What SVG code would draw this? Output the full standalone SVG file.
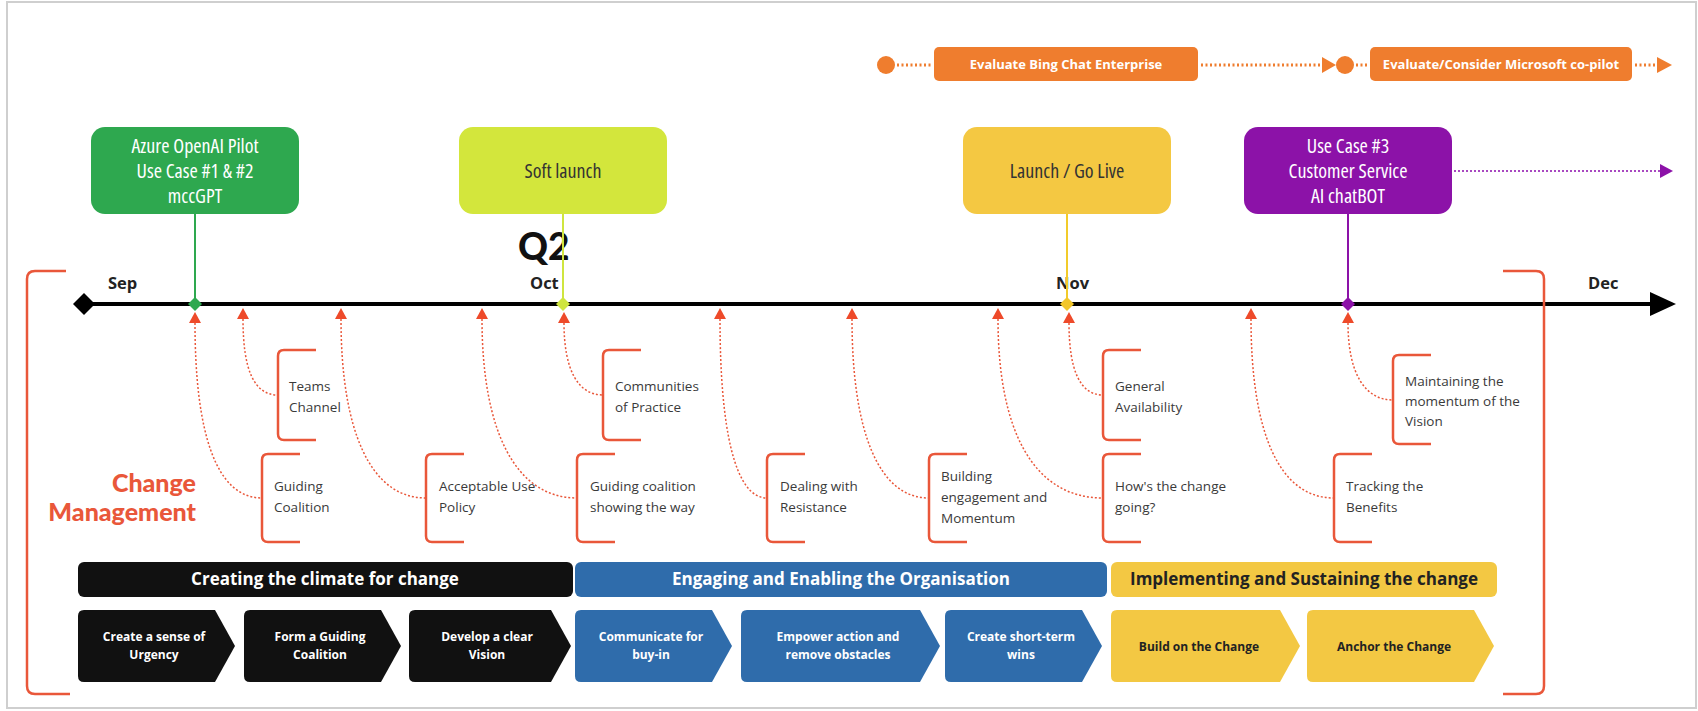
<svg xmlns="http://www.w3.org/2000/svg" width="1698" height="711" viewBox="0 0 1698 711">
<defs>
<style>
.frame{fill:#fff;stroke:#cfcfcf;stroke-width:2}
.ms{font-family:"Open Sans","DejaVu Sans",sans-serif;font-size:20px;text-anchor:middle;font-stretch:semi-condensed}
.mon{font-family:"Open Sans","DejaVu Sans",sans-serif;font-size:16.5px;font-weight:700;fill:#222}
.lbl{font-family:"Open Sans","DejaVu Sans",sans-serif;font-size:13.5px;fill:#3a3a3a}
.brk{fill:none;stroke:#e9573a;stroke-width:2.5;stroke-linejoin:round}
.cur{fill:none;stroke:#e9573a;stroke-width:1.5;stroke-dasharray:2 2}
.tri{fill:#ee4a2a}
.phase{font-family:"Open Sans","DejaVu Sans",sans-serif;font-size:17px;font-weight:700;text-anchor:middle}
.chev{font-family:"Open Sans","DejaVu Sans",sans-serif;font-size:12px;font-weight:700;text-anchor:middle}
.or{fill:#ef7d2e}
.ordot{fill:none;stroke:#ef7d2e;stroke-width:3;stroke-dasharray:2 2.5}
.ortxt{font-family:"Open Sans","DejaVu Sans",sans-serif;font-size:13px;font-weight:700;fill:#fff;text-anchor:middle}
</style>
</defs>
<rect class="frame" x="7" y="2" width="1689" height="706"/>

<!-- top orange evaluation row -->
<g id="eval-row">
<circle class="or" cx="886" cy="65" r="9"/>
<line class="ordot" x1="897" y1="65" x2="932" y2="65"/>
<rect class="or" x="934" y="47" width="264" height="34" rx="5"/>
<text class="ortxt" x="1066" y="69">Evaluate Bing Chat Enterprise</text>
<line class="ordot" x1="1201" y1="65" x2="1323" y2="65"/>
<polygon class="or" points="1322,57 1336,65 1322,73"/>
<circle class="or" cx="1345" cy="65" r="9"/>
<line class="ordot" x1="1356" y1="65" x2="1368" y2="65"/>
<rect class="or" x="1370" y="47" width="262" height="34" rx="5"/>
<text class="ortxt" x="1501" y="69">Evaluate/Consider Microsoft co-pilot</text>
<line class="ordot" x1="1635" y1="65" x2="1658" y2="65"/>
<polygon class="or" points="1657,57 1672,65 1657,73"/>
</g>

<!-- timeline -->
<g id="timeline">
<line x1="84" y1="304" x2="1652" y2="304" stroke="#000" stroke-width="4"/>
<polygon points="84,293 95,304 84,315 73,304" fill="#000"/>
<polygon points="1650,292 1676,304 1650,316" fill="#000"/>
<text class="mon" x="108" y="289">Sep</text>
<text class="mon" x="530" y="289">Oct</text>
<text class="mon" x="1056" y="289">Nov</text>
<text class="mon" x="1588" y="289">Dec</text>
<text x="518" y="260" font-family="Lato,Inter,sans-serif" font-weight="900" font-size="37" fill="#111">Q2</text>
</g>

<!-- milestones -->
<g id="ms-azure">
<line x1="195" y1="214" x2="195" y2="304" stroke="#2ea84f" stroke-width="2"/>
<rect x="91" y="127" width="208" height="87" rx="14" fill="#2ea84f"/>
<text class="ms" fill="#fff"><tspan x="195" y="153">Azure OpenAI Pilot</tspan><tspan x="195" y="178">Use Case #1 &amp; #2</tspan><tspan x="195" y="203">mccGPT</tspan></text>
<polygon points="195,297 202,304 195,311 188,304" fill="#2ea84f"/>
</g>
<g id="ms-soft">
<line x1="563" y1="214" x2="563" y2="304" stroke="#cfe53f" stroke-width="2"/>
<rect x="459" y="127" width="208" height="87" rx="14" fill="#d3e63c"/>
<text class="ms" fill="#333" x="563" y="178">Soft launch</text>
<polygon points="563,297 570,304 563,311 556,304" fill="#cfe53f"/>
</g>
<g id="ms-launch">
<line x1="1067" y1="214" x2="1067" y2="304" stroke="#f2cb2a" stroke-width="2"/>
<rect x="963" y="127" width="208" height="87" rx="14" fill="#f4c842"/>
<text class="ms" fill="#333" x="1067" y="178">Launch / Go Live</text>
<polygon points="1067,297 1074,304 1067,311 1060,304" fill="#f2c62a"/>
</g>
<g id="ms-usecase3">
<line x1="1348" y1="214" x2="1348" y2="304" stroke="#8c12a8" stroke-width="2"/>
<rect x="1244" y="127" width="208" height="87" rx="14" fill="#8c12a8"/>
<text class="ms" fill="#fff"><tspan x="1348" y="153">Use Case #3</tspan><tspan x="1348" y="178">Customer Service</tspan><tspan x="1348" y="203">AI chatBOT</tspan></text>
<polygon points="1348,297 1355,304 1348,311 1341,304" fill="#8c12a8"/>
<line x1="1454" y1="171" x2="1661" y2="171" stroke="#a848c0" stroke-width="2" stroke-dasharray="2 2"/>
<polygon points="1660,164 1673,171 1660,178" fill="#8c12a8"/>
</g>

<text x="196" y="492" font-family="Lato,Inter,sans-serif" font-weight="900" font-size="25" fill="#e9573a" text-anchor="end">Change</text>
<text x="196" y="521" font-family="Lato,Inter,sans-serif" font-weight="900" font-size="25" fill="#e9573a" text-anchor="end">Management</text>

<!-- outer brackets -->
<path class="brk" d="M66,271 H35 Q27,271 27,279 V686 Q27,694 35,694 H70"/>
<path class="brk" d="M1503,271 H1536 Q1544,271 1544,279 V686 Q1544,694 1536,694 H1503" stroke="#e86a5a"/>

<!-- connectors -->
<g id="connectors">
<polygon class="tri" points="195,312 201,323 189,323"/>
<polygon class="tri" points="243,308 249,319 237,319"/>
<polygon class="tri" points="341,308 347,319 335,319"/>
<polygon class="tri" points="482,308 488,319 476,319"/>
<polygon class="tri" points="564,312 570,323 558,323"/>
<polygon class="tri" points="720,308 726,319 714,319"/>
<polygon class="tri" points="852,308 858,319 846,319"/>
<polygon class="tri" points="998,308 1004,319 992,319"/>
<polygon class="tri" points="1069,312 1075,323 1063,323"/>
<polygon class="tri" points="1251,308 1257,319 1245,319"/>
<polygon class="tri" points="1348,312 1354,323 1342,323"/>
<path class="cur" d="M195,323 C195,430 215,498 262,498"/>
<path class="cur" d="M243,319 C243,370 254,395 278,395"/>
<path class="cur" d="M341,319 C341,430 370,498 426,498"/>
<path class="cur" d="M482,319 C482,430 515,498 577,498"/>
<path class="cur" d="M564,323 C564,370 578,395 603,395"/>
<path class="cur" d="M720,319 C720,430 735,498 767,498"/>
<path class="cur" d="M852,319 C852,430 878,498 929,498"/>
<path class="cur" d="M998,319 C998,430 1033,498 1103,498"/>
<path class="cur" d="M1069,323 C1069,370 1080,395 1103,395"/>
<path class="cur" d="M1251,319 C1251,430 1278,498 1334,498"/>
<path class="cur" d="M1348,323 C1348,372 1364,400 1393,400"/>
</g>

<!-- bracket labels -->
<g id="lbl-teams"><path class="brk" d="M316,350 H284 Q278,350 278,356 V434 Q278,440 284,440 H316"/><text class="lbl"><tspan x="289" y="391">Teams</tspan><tspan x="289" y="412">Channel</tspan></text></g>
<g id="lbl-communities"><path class="brk" d="M641,350 H609 Q603,350 603,356 V434 Q603,440 609,440 H641"/><text class="lbl"><tspan x="615" y="391">Communities</tspan><tspan x="615" y="412">of Practice</tspan></text></g>
<g id="lbl-general"><path class="brk" d="M1141,350 H1109 Q1103,350 1103,356 V434 Q1103,440 1109,440 H1141"/><text class="lbl"><tspan x="1115" y="391">General</tspan><tspan x="1115" y="412">Availability</tspan></text></g>
<g id="lbl-maintaining"><path class="brk" d="M1431,355 H1399 Q1393,355 1393,361 V438 Q1393,444 1399,444 H1431"/><text class="lbl"><tspan x="1405" y="386">Maintaining the</tspan><tspan x="1405" y="406">momentum of the</tspan><tspan x="1405" y="426">Vision</tspan></text></g>

<g id="lbl-guiding"><path class="brk" d="M300,454 H268 Q262,454 262,460 V536 Q262,542 268,542 H300"/><text class="lbl"><tspan x="274" y="491">Guiding</tspan><tspan x="274" y="512">Coalition</tspan></text></g>
<g id="lbl-aup"><path class="brk" d="M464,454 H432 Q426,454 426,460 V536 Q426,542 432,542 H464"/><text class="lbl"><tspan x="439" y="491">Acceptable Use</tspan><tspan x="439" y="512">Policy</tspan></text></g>
<g id="lbl-showing"><path class="brk" d="M615,454 H583 Q577,454 577,460 V536 Q577,542 583,542 H615"/><text class="lbl"><tspan x="590" y="491">Guiding coalition</tspan><tspan x="590" y="512">showing the way</tspan></text></g>
<g id="lbl-dealing"><path class="brk" d="M805,454 H773 Q767,454 767,460 V536 Q767,542 773,542 H805"/><text class="lbl"><tspan x="780" y="491">Dealing with</tspan><tspan x="780" y="512">Resistance</tspan></text></g>
<g id="lbl-building"><path class="brk" d="M967,454 H935 Q929,454 929,460 V536 Q929,542 935,542 H967"/><text class="lbl"><tspan x="941" y="481">Building</tspan><tspan x="941" y="502">engagement and</tspan><tspan x="941" y="523">Momentum</tspan></text></g>
<g id="lbl-hows"><path class="brk" d="M1141,454 H1109 Q1103,454 1103,460 V536 Q1103,542 1109,542 H1141"/><text class="lbl"><tspan x="1115" y="491">How's the change</tspan><tspan x="1115" y="512">going?</tspan></text></g>
<g id="lbl-tracking"><path class="brk" d="M1372,454 H1340 Q1334,454 1334,460 V536 Q1334,542 1340,542 H1372"/><text class="lbl"><tspan x="1346" y="491">Tracking the</tspan><tspan x="1346" y="512">Benefits</tspan></text></g>

<!-- phase bars -->
<g id="phase-climate"><rect x="78" y="562" width="495" height="35" rx="6" fill="#111"/><text class="phase" fill="#fff" x="325" y="585">Creating the climate for change</text></g>
<g id="phase-engaging"><rect x="575" y="562" width="532" height="35" rx="6" fill="#2f6cab"/><text class="phase" fill="#fff" x="841" y="585">Engaging and Enabling the Organisation</text></g>
<g id="phase-implementing"><rect x="1111" y="562" width="386" height="35" rx="6" fill="#f3c843"/><text class="phase" fill="#222" x="1304" y="585">Implementing and Sustaining the change</text></g>

<!-- chevrons -->
<g id="step-urgency"><path d="M84,610 H215 L235,646 L215,682 H84 Q78,682 78,676 V616 Q78,610 84,610 Z" fill="#111"/><text class="chev" fill="#fff"><tspan x="154" y="641">Create a sense of</tspan><tspan x="154" y="659">Urgency</tspan></text></g>
<g id="step-coalition"><path d="M250,610 H381 L401,646 L381,682 H250 Q244,682 244,676 V616 Q244,610 250,610 Z" fill="#111"/><text class="chev" fill="#fff"><tspan x="320" y="641">Form a Guiding</tspan><tspan x="320" y="659">Coalition</tspan></text></g>
<g id="step-vision"><path d="M415,610 H551 L571,646 L551,682 H415 Q409,682 409,676 V616 Q409,610 415,610 Z" fill="#111"/><text class="chev" fill="#fff"><tspan x="487" y="641">Develop a clear</tspan><tspan x="487" y="659">Vision</tspan></text></g>
<g id="step-communicate"><path d="M581,610 H712 L732,646 L712,682 H581 Q575,682 575,676 V616 Q575,610 581,610 Z" fill="#2f6cab"/><text class="chev" fill="#fff"><tspan x="651" y="641">Communicate for</tspan><tspan x="651" y="659">buy-in</tspan></text></g>
<g id="step-empower"><path d="M747,610 H920 L940,646 L920,682 H747 Q741,682 741,676 V616 Q741,610 747,610 Z" fill="#2f6cab"/><text class="chev" fill="#fff"><tspan x="838" y="641">Empower action and</tspan><tspan x="838" y="659">remove obstacles</tspan></text></g>
<g id="step-wins"><path d="M951,610 H1082 L1102,646 L1082,682 H951 Q945,682 945,676 V616 Q945,610 951,610 Z" fill="#2f6cab"/><text class="chev" fill="#fff"><tspan x="1021" y="641">Create short-term</tspan><tspan x="1021" y="659">wins</tspan></text></g>
<g id="step-build"><path d="M1117,610 H1280 L1300,646 L1280,682 H1117 Q1111,682 1111,676 V616 Q1111,610 1117,610 Z" fill="#f3c843"/><text class="chev" fill="#222" x="1199" y="651">Build on the Change</text></g>
<g id="step-anchor"><path d="M1313,610 H1474 L1494,646 L1474,682 H1313 Q1307,682 1307,676 V616 Q1307,610 1313,610 Z" fill="#f3c843"/><text class="chev" fill="#222" x="1394" y="651">Anchor the Change</text></g>
</svg>
